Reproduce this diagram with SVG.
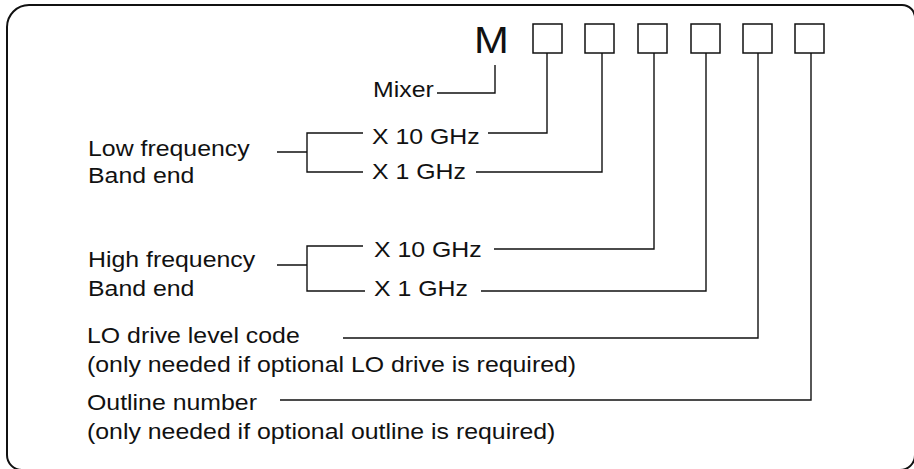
<svg xmlns="http://www.w3.org/2000/svg" width="914" height="469" viewBox="0 0 914 469">
<style>
.t{font-family:"Liberation Sans",Arial,sans-serif;font-size:22px;fill:#111}
.big{font-family:"Liberation Sans",Arial,sans-serif;font-size:37px;fill:#111}
.ln{fill:none;stroke:#111;stroke-width:1.4}
.box{fill:#fff;stroke:#111;stroke-width:1.5}
.frame{fill:none;stroke:#111;stroke-width:2}
</style>
<rect width="914" height="469" fill="#fff"/>
<path class="frame" d="M7,455 V27 A22,22 0 0 1 29,5 H902 A13,13 0 0 1 915,18 V455 M7,455 A15,15 0 0 0 22,470 H900 A15,15 0 0 0 915,455"/>
<g id="code">
<text class="big" transform="translate(474,53) scale(1.13,1)">M</text>
</g>
<g id="boxes">
<rect id="box1" class="box" x="533" y="24" width="29" height="29"/>
<rect id="box2" class="box" x="585" y="24" width="29" height="29"/>
<rect id="box3" class="box" x="638" y="24" width="29" height="29"/>
<rect id="box4" class="box" x="691" y="24" width="29" height="29"/>
<rect id="box5" class="box" x="743" y="24" width="29" height="29"/>
<rect id="box6" class="box" x="795" y="24" width="29" height="29"/>
</g>
<g id="labels">
<g id="mixer"><text class="t" transform="translate(373,97) scale(1.13,1)">Mixer</text></g>
<g id="low"><text class="t" transform="translate(88,156) scale(1.13,1)">Low frequency</text><text class="t" transform="translate(88,183) scale(1.13,1)">Band end</text></g>
<g id="low10"><text class="t" transform="translate(372,144) scale(1.13,1)">X 10 GHz</text></g>
<g id="low1"><text class="t" transform="translate(372,179) scale(1.13,1)">X 1 GHz</text></g>
<g id="high"><text class="t" transform="translate(88,267) scale(1.13,1)">High frequency</text><text class="t" transform="translate(88,296) scale(1.13,1)">Band end</text></g>
<g id="high10"><text class="t" transform="translate(374,257) scale(1.13,1)">X 10 GHz</text></g>
<g id="high1"><text class="t" transform="translate(374,296) scale(1.13,1)">X 1 GHz</text></g>
<g id="lo"><text class="t" transform="translate(87,343) scale(1.13,1)">LO drive level code</text><text class="t" transform="translate(87,372) scale(1.13,1)">(only needed if optional LO drive is required)</text></g>
<g id="outline"><text class="t" transform="translate(87,410) scale(1.13,1)">Outline number</text><text class="t" transform="translate(87,439) scale(1.13,1)">(only needed if optional outline is required)</text></g>
</g>
<g id="connectors">
<path class="ln" d="M437,93 H495 V65"/>
<path class="ln" d="M277,152 H307 M363,133 H307 V172 H363"/>
<path class="ln" d="M277,265 H307 M363,246 H307 V291 H365"/>
<path class="ln" d="M488,133 H547 V53"/>
<path class="ln" d="M476,172 H602 V53"/>
<path class="ln" d="M494,249 H654 V53"/>
<path class="ln" d="M481,291 H706 V53"/>
<path class="ln" d="M343,338 H758 V53"/>
<path class="ln" d="M280,400 H811 V53"/>
</g>
</svg>
